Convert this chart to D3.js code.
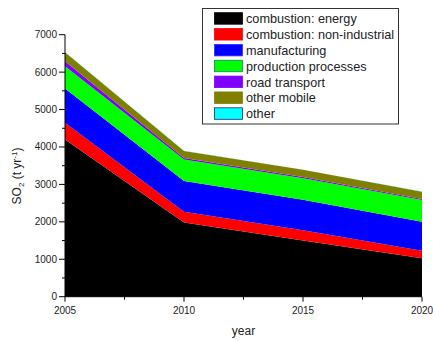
<!DOCTYPE html>
<html><head><meta charset="utf-8">
<script src="https://cdn.jsdelivr.net/npm/d3@7"></script>
<style>body{margin:0;background:#fff}svg{display:block;font-family:"Liberation Sans",Arial,sans-serif}</style>
</head><body>
<script>
const years = [2005, 2010, 2015, 2020];
const seriesNames = ["combustion: energy","combustion: non-industrial","manufacturing","production processes","road transport","other mobile","other"];
const energy = [4200, 1980, 1500, 1025];
const nonIndustrial = [450, 290, 275, 205];
const manufacturing = [910, 820, 815, 775];
const production = [600, 575, 575, 580];
const road = [130, 40, 30, 25];
const otherMobile = [240, 190, 195, 195];
const other = [8, 5, 5, 5];
const colors = ["#000000","#ff0000","#0000ff","#00ff00","#8000ff","#808000","#00ffff"];
const swatchStroke = ["#000000","#ff0000","#3030ff","#108060","#8000ff","#808000","#202080"];
const yTicks = [0,1000,2000,3000,4000,5000,6000,7000];
const xTicks = [2005,2010,2015,2020];

const W=433,H=341;
const svg=d3.select("body").append("svg").attr("width",W).attr("height",H);
const x=d3.scaleLinear().domain([2005,2020]).range([65,422]);
const y=d3.scaleLinear().domain([0,7000]).range([296.7,34.7]);

const cols=[energy,nonIndustrial,manufacturing,production,road,otherMobile,other];
const table=years.map((yr,i)=>{const o={year:yr};seriesNames.forEach((n,k)=>o[n]=cols[k][i]);return o;});
const stack=d3.stack().keys(seriesNames)(table);
const area=d3.area().x(d=>x(d.data.year)).y0(d=>y(d[0])).y1(d=>y(d[1]));
svg.append("g").selectAll("path").data(stack).join("path")
  .attr("d",area).attr("fill",(d,i)=>colors[i]);

// y axis
const ya=svg.append("g").attr("transform","translate(65,0)");
ya.append("line").attr("x1",0).attr("x2",0).attr("y1",y(0)).attr("y2",y(7000)).attr("stroke","#000");
ya.call(g=>{
  yTicks.forEach(t=>{
    g.append("line").attr("x1",-6).attr("x2",0).attr("y1",y(t)).attr("y2",y(t)).attr("stroke","#000");
    g.append("text").attr("x",-8).attr("y",y(t)).attr("dy","0.35em").attr("text-anchor","end").attr("font-size",10).attr("fill","#222").text(t);
  });
  d3.range(500,7000,1000).forEach(t=>{
    g.append("line").attr("x1",-3).attr("x2",0).attr("y1",y(t)).attr("y2",y(t)).attr("stroke","#000");
  });
});
// x axis
const xa=svg.append("g").attr("transform",`translate(0,${y(0)})`);
xa.append("line").attr("x1",x(2005)).attr("x2",x(2020)).attr("stroke","#000");
xTicks.forEach(t=>{
  xa.append("line").attr("x1",x(t)).attr("x2",x(t)).attr("y1",0).attr("y2",5).attr("stroke","#000");
  xa.append("text").attr("x",x(t)).attr("y",17).attr("text-anchor","middle").attr("font-size",10).attr("fill","#222").text(t);
});
[2007.5,2012.5,2017.5].forEach(t=>{
  xa.append("line").attr("x1",x(t)).attr("x2",x(t)).attr("y1",0).attr("y2",3).attr("stroke","#000");
});
svg.append("text").attr("x",243.5).attr("y",335).attr("text-anchor","middle").attr("font-size",12).attr("fill","#222").text("year");

const yl=svg.append("text").attr("transform","translate(21,176) rotate(-90)").attr("text-anchor","middle").attr("font-size",12).attr("fill","#222");
yl.append("tspan").text("SO");
yl.append("tspan").attr("font-size",8).attr("dy",3).text("2");
yl.append("tspan").attr("dy",-3).text(" (t yr");
yl.append("tspan").attr("font-size",8).attr("dy",-4).text("-1");
yl.append("tspan").attr("dy",4).text(")");

// legend
const lg=svg.append("g");
lg.append("rect").attr("x",202.5).attr("y",8.5).attr("width",196).attr("height",115.5).attr("fill","#fff").attr("stroke","#333").attr("stroke-width",1);
seriesNames.forEach((n,i)=>{
  const cy=18.7+i*15.85;
  lg.append("rect").attr("x",214.5).attr("y",cy-6).attr("width",28).attr("height",11.5).attr("fill",colors[i]).attr("stroke",swatchStroke[i]).attr("stroke-width",0.8);
  lg.append("text").attr("x",246).attr("y",cy).attr("dy","0.35em").attr("font-size",12.7).attr("fill","#222").text(n);
});
</script>
</body></html>
